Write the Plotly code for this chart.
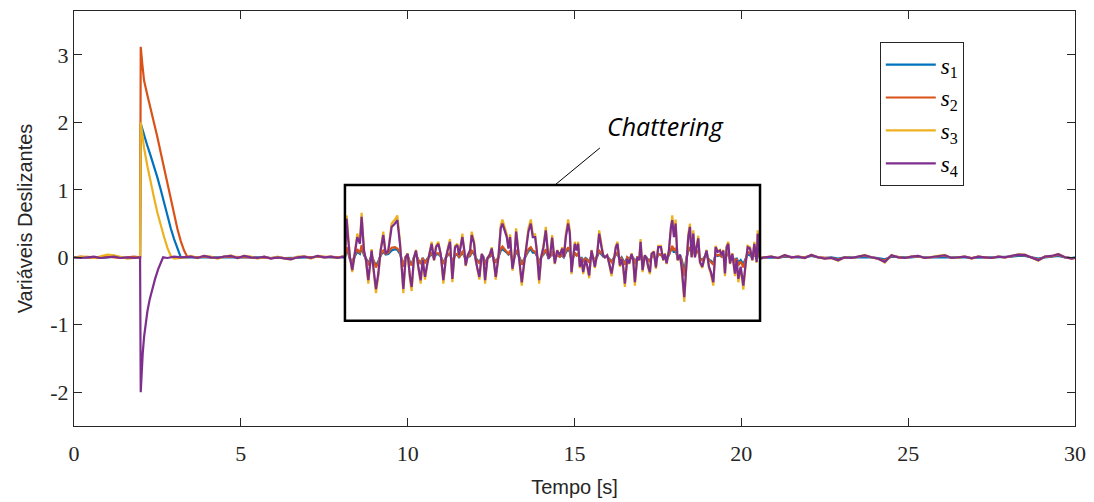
import plotly.graph_objects as go

# ---------------- data ----------------
t_pre = [0.0, 0.2, 0.4, 0.6, 0.8, 1.0, 1.2, 1.4, 1.6, 1.8, 1.98]
s1_pre = [0.0, 0.0, 0.01, 0.0, -0.01, 0.0, 0.01, 0.0, -0.01, 0.0, 0.0]
s2_pre = [0.0, 0.01, 0.0, -0.01, 0.0, 0.01, 0.0, -0.01, 0.0, 0.01, 0.0]
s3_pre = [0.0, 0.0, 0.01, -0.01, 0.02, 0.04, 0.03, 0.01, -0.02, -0.01, 0.0]
s4_pre = [0.0, -0.01, 0.0, 0.01, -0.01, 0.0, 0.01, -0.01, 0.0, -0.01, 0.0]

t1_tr = [2.0, 2.1, 2.2, 2.3, 2.4, 2.5, 2.6, 2.7, 2.8, 2.9, 3.0, 3.1, 3.2, 3.35]
s1_tr = [1.98, 1.8, 1.65, 1.5, 1.35, 1.18, 1.0, 0.8, 0.6, 0.43, 0.27, 0.12, 0.0, 0.0]
t2_tr = [2.0, 2.05, 2.1, 2.2, 2.3, 2.4, 2.5, 2.6, 2.7, 2.8, 2.9, 3.0, 3.1, 3.2, 3.3, 3.4]
s2_tr = [3.12, 2.85, 2.62, 2.4, 2.2, 2.0, 1.78, 1.55, 1.32, 1.08, 0.85, 0.63, 0.42, 0.24, 0.1, 0.0]
t3_tr = [2.0, 2.05, 2.1, 2.2, 2.3, 2.4, 2.5, 2.6, 2.7, 2.8, 2.9, 3.0, 3.2, 3.35]
s3_tr = [2.0, 1.8, 1.62, 1.35, 1.1, 0.88, 0.66, 0.47, 0.3, 0.14, 0.02, -0.02, -0.01, 0.0]
t4_tr = [2.0, 2.03, 2.06, 2.1, 2.15, 2.2, 2.27, 2.35, 2.43, 2.52, 2.6, 2.67, 2.8, 3.0, 3.2, 3.35]
s4_tr = [-2.0, -1.68, -1.42, -1.18, -0.96, -0.8, -0.62, -0.46, -0.32, -0.18, -0.07, 0.0, -0.01, 0.01, 0.0, 0.01]

t_mid = [3.5, 3.7, 3.9, 4.1, 4.3, 4.5, 4.7, 4.9, 5.1, 5.3, 5.5, 5.7, 5.9, 6.1, 6.3, 6.5,
         6.7, 6.9, 7.1, 7.3, 7.5, 7.7, 7.9, 8.05]
s1_mid = [0.0, 0.0, 0.01, 0.0, 0.0, 0.01, 0.01, 0.0, 0.01, 0.0, 0.0, 0.0, -0.01, 0.0, -0.01, -0.01,
          0.0, 0.0, 0.0, 0.01, 0.0, 0.0, 0.0, 0.0]
s2_mid = [0.01, 0.0, 0.01, 0.0, -0.01, 0.01, 0.01, 0.0, 0.01, 0.0, -0.01, 0.0, -0.01, 0.0, -0.01, -0.02,
          0.0, 0.01, 0.0, 0.01, 0.0, 0.01, 0.0, 0.01]
s3_mid = [0.02, -0.01, 0.02, 0.01, -0.02, 0.01, 0.03, -0.01, 0.02, 0.01, -0.02, 0.01, -0.02, 0.01, -0.02, -0.03,
          0.01, 0.01, -0.02, 0.02, 0.01, 0.01, -0.01, 0.01]
s4_mid = [0.01, -0.01, 0.02, 0.0, -0.01, 0.01, 0.02, -0.01, 0.02, 0.0, -0.01, 0.01, -0.02, 0.0, -0.02, -0.03,
          0.0, 0.01, -0.01, 0.02, 0.0, 0.01, -0.01, 0.01]

t_chat = [8.12, 8.17, 8.22, 8.27, 8.34, 8.42, 8.49, 8.57, 8.62, 8.69,
          8.75, 8.82, 8.92, 8.97, 9.05, 9.12, 9.19, 9.27, 9.34, 9.42,
          9.52, 9.62, 9.69, 9.77, 9.82, 9.87, 9.94, 10.0, 10.07, 10.12,
          10.19, 10.25, 10.32, 10.39, 10.45, 10.52, 10.59, 10.65, 10.72, 10.79,
          10.85, 10.92, 10.99, 11.07, 11.15, 11.22, 11.27, 11.34, 11.42, 11.49,
          11.54, 11.64, 11.70, 11.74, 11.80, 11.87, 11.92, 11.99, 12.04, 12.10,
          12.15, 12.22, 12.27, 12.32, 12.39, 12.47, 12.52, 12.59, 12.64, 12.72,
          12.79, 12.84, 12.90, 12.97, 13.02, 13.07, 13.14, 13.20, 13.25, 13.32,
          13.37, 13.42, 13.49, 13.55, 13.62, 13.69, 13.75, 13.82, 13.87, 13.94,
          14.00, 14.07, 14.14, 14.22, 14.27, 14.33, 14.41, 14.48, 14.56, 14.63,
          14.68, 14.74, 14.81, 14.86, 14.91, 14.96, 15.01, 15.06, 15.11, 15.16,
          15.21, 15.26, 15.33, 15.38, 15.44, 15.51, 15.56, 15.61, 15.68, 15.74,
          15.81, 15.86, 15.91, 15.98, 16.04, 16.11, 16.18, 16.24, 16.29, 16.36,
          16.41, 16.46, 16.51, 16.58, 16.64, 16.71, 16.76, 16.81, 16.88, 16.94,
          16.98, 17.04, 17.11, 17.16, 17.21, 17.26, 17.31, 17.38, 17.44, 17.51,
          17.59, 17.66, 17.71, 17.76, 17.83, 17.89, 17.93, 17.98, 18.03, 18.09,
          18.16, 18.21, 18.29, 18.36, 18.41, 18.46, 18.51, 18.56, 18.61, 18.66,
          18.71, 18.76, 18.83, 18.89, 18.96, 19.03, 19.09, 19.16, 19.23, 19.29,
          19.36, 19.41, 19.46, 19.51, 19.56, 19.61, 19.66, 19.73, 19.81, 19.86,
          19.91, 19.98, 20.06, 20.13, 20.19, 20.26, 20.33, 20.39, 20.46, 20.49,
          20.56]

s4_chat = [0.0, 0.57, 0.25, 0.0, -0.19, 0.05, 0.30, 0.20, 0.60, 0.10,
           -0.04, -0.34, 0.10, -0.14, -0.47, -0.24, 0.10, 0.33, 0.05, 0.10,
           0.45, 0.50, 0.55, 0.20, -0.09, -0.47, 0.0, 0.05, -0.29, -0.44,
           0.0, 0.10, -0.14, -0.34, -0.04, -0.29, -0.09, 0.05, 0.20, -0.04,
           0.15, 0.20, 0.05, -0.34, 0.0, 0.15, 0.23, -0.32, 0.15, 0.18,
           0.03, 0.30, 0.10, -0.12, 0.03, 0.10, 0.33, 0.20, -0.04, -0.19,
           -0.29, 0.05, 0.0, -0.34, -0.02, 0.05, 0.13, -0.09, -0.29, 0.0,
           0.43, 0.50, 0.40, 0.30, 0.13, 0.30, -0.17, 0.0, 0.38, 0.10,
           -0.09, -0.37, -0.09, 0.15, 0.38, 0.50, 0.30, 0.30, 0.10, -0.34,
           0.0, 0.15, 0.40, -0.02, 0.03, 0.29, -0.09, 0.10, 0.03, 0.13,
           0.0, 0.30, 0.50, 0.35, -0.22, 0.0, 0.20, 0.10, 0.20, -0.14,
           -0.02, -0.22, -0.04, -0.12, -0.27, 0.10, 0.0, -0.14, 0.05, 0.35,
           0.15, 0.03, 0.0, 0.03, -0.09, -0.24, -0.04, 0.15, 0.20, -0.12,
           -0.02, -0.14, -0.39, -0.02, -0.09, 0.05, -0.04, -0.37, 0.0, -0.04,
           0.23, -0.19, 0.03, -0.02, -0.14, -0.22, 0.05, 0.08, -0.15, 0.15,
           0.15, -0.04, 0.05, -0.09, 0.10, 0.45, 0.55, 0.30, 0.50, -0.04,
           0.03, -0.14, -0.59, -0.04, 0.30, 0.45, 0.0, 0.35, 0.0, 0.15,
           0.28, -0.07, -0.14, -0.02, 0.10, -0.14, -0.22, -0.37, 0.15, 0.08,
           0.10, 0.03, 0.10, -0.24, 0.15, 0.20, -0.09, 0.05, -0.24, -0.04,
           -0.32, -0.14, -0.42, -0.09, 0.15, 0.13, -0.04, 0.20, -0.07, 0.35,
           -0.02]

s3_chat = [0.0, 0.62, 0.29, 0.0, -0.22, 0.06, 0.35, 0.23, 0.66, 0.11,
           -0.05, -0.39, 0.12, -0.16, -0.53, -0.28, 0.11, 0.38, 0.05, 0.11,
           0.50, 0.56, 0.62, 0.23, -0.10, -0.53, 0.0, 0.06, -0.33, -0.50,
           0.0, 0.11, -0.16, -0.39, -0.04, -0.33, -0.10, 0.06, 0.23, -0.05,
           0.17, 0.23, 0.05, -0.39, 0.0, 0.17, 0.27, -0.37, 0.17, 0.20,
           0.03, 0.35, 0.11, -0.13, 0.03, 0.11, 0.38, 0.23, -0.05, -0.22,
           -0.33, 0.05, 0.0, -0.39, -0.02, 0.06, 0.15, -0.10, -0.33, 0.0,
           0.48, 0.56, 0.45, 0.34, 0.14, 0.34, -0.20, 0.0, 0.43, 0.11,
           -0.10, -0.42, -0.10, 0.17, 0.43, 0.56, 0.34, 0.34, 0.11, -0.39,
           0.0, 0.17, 0.45, -0.02, 0.03, 0.33, -0.10, 0.11, 0.03, 0.15,
           0.0, 0.34, 0.56, 0.40, -0.25, 0.0, 0.23, 0.11, 0.23, -0.16,
           -0.02, -0.25, -0.05, -0.14, -0.31, 0.11, 0.0, -0.16, 0.06, 0.40,
           0.17, 0.03, 0.0, 0.03, -0.10, -0.28, -0.05, 0.17, 0.23, -0.14,
           -0.02, -0.16, -0.44, -0.02, -0.10, 0.06, -0.05, -0.42, 0.0, -0.05,
           0.27, -0.22, 0.03, -0.02, -0.16, -0.25, 0.06, 0.09, -0.17, 0.17,
           0.17, -0.05, 0.06, -0.10, 0.11, 0.50, 0.62, 0.34, 0.56, -0.05,
           0.03, -0.16, -0.66, -0.05, 0.34, 0.50, 0.0, 0.40, 0.0, 0.17,
           0.32, -0.08, -0.16, -0.02, 0.11, -0.16, -0.25, -0.42, 0.17, 0.09,
           0.11, 0.03, 0.11, -0.28, 0.17, 0.23, -0.10, 0.06, -0.28, -0.05,
           -0.37, -0.16, -0.48, -0.10, 0.17, 0.15, -0.05, 0.23, -0.08, 0.40,
           -0.02]

s2_chat = [0.0, 0.15, 0.08, -0.02, -0.06, 0.04, 0.12, 0.06, 0.18, 0.05,
           -0.02, -0.12, 0.03, -0.05, -0.15, -0.08, 0.03, 0.10, 0.05, 0.07,
           0.14, 0.15, 0.13, 0.08, -0.03, -0.14, 0.01, 0.03, -0.09, -0.12,
           0.0, 0.05, -0.04, -0.10, -0.01, -0.08, -0.03, 0.02, 0.07, 0.0,
           0.06, 0.06, 0.02, -0.10, 0.0, 0.05, 0.06, -0.08, 0.04, 0.05,
           0.0, 0.08, 0.03, -0.04, 0.01, 0.03, 0.10, 0.07, -0.02, -0.06,
           -0.09, 0.01, -0.01, -0.11, -0.02, 0.02, 0.05, -0.03, -0.08, 0.01,
           0.13, 0.16, 0.12, 0.09, 0.05, 0.10, -0.05, 0.01, 0.11, 0.04,
           -0.03, -0.11, -0.03, 0.05, 0.12, 0.15, 0.10, 0.08, 0.03, -0.10,
           0.0, 0.05, 0.12, 0.0, 0.01, 0.09, -0.03, 0.04, 0.01, 0.05,
           0.0, 0.09, 0.15, 0.10, -0.06, 0.0, 0.07, 0.03, 0.06, -0.05,
           -0.01, -0.07, -0.02, -0.04, -0.08, 0.03, 0.0, -0.04, 0.02, 0.10,
           0.06, 0.02, 0.0, 0.01, -0.03, -0.07, -0.01, 0.05, 0.07, -0.04,
           -0.01, -0.05, -0.11, 0.0, -0.03, 0.02, -0.01, -0.10, 0.0, -0.01,
           0.07, -0.06, 0.01, -0.01, -0.04, -0.07, 0.02, 0.03, -0.05, 0.05,
           0.04, -0.01, 0.02, -0.03, 0.04, 0.14, 0.17, 0.10, 0.14, -0.01,
           0.03, -0.05, -0.28, -0.02, 0.12, 0.15, 0.05, 0.12, 0.03, 0.08,
           0.10, -0.02, -0.05, 0.0, 0.04, -0.04, -0.07, -0.11, 0.04, 0.03,
           0.04, 0.01, 0.03, -0.07, 0.05, 0.06, -0.03, 0.02, -0.08, -0.02,
           -0.12, -0.06, -0.15, -0.03, 0.08, 0.06, -0.01, 0.07, -0.02, 0.10,
           -0.01]

s1_chat = [0.0, 0.12, 0.06, -0.03, -0.10, 0.02, 0.08, 0.05, 0.15, 0.03,
           -0.01, -0.09, 0.02, -0.04, -0.12, -0.06, 0.03, 0.08, 0.04, 0.05,
           0.10, 0.12, 0.11, 0.05, -0.02, -0.11, 0.0, 0.02, -0.07, -0.10,
           0.0, 0.03, -0.04, -0.08, -0.01, -0.07, -0.02, 0.02, 0.05, -0.01,
           0.04, 0.05, 0.01, -0.08, 0.0, 0.04, 0.05, -0.07, 0.03, 0.04,
           0.0, 0.07, 0.02, -0.03, 0.0, 0.02, 0.08, 0.05, -0.01, -0.05,
           -0.08, 0.01, 0.0, -0.09, -0.01, 0.01, 0.04, -0.02, -0.07, 0.0,
           0.10, 0.12, 0.10, 0.07, 0.04, 0.07, -0.04, 0.0, 0.09, 0.03,
           -0.02, -0.09, -0.02, 0.04, 0.09, 0.12, 0.07, 0.07, 0.02, -0.08,
           0.0, 0.04, 0.10, -0.01, 0.01, 0.07, -0.02, 0.03, 0.01, 0.03,
           0.0, 0.07, 0.12, 0.08, -0.05, 0.0, 0.05, 0.03, 0.05, -0.04,
           0.0, -0.05, -0.01, -0.03, -0.07, 0.03, 0.0, -0.04, 0.01, 0.08,
           0.04, 0.01, 0.0, 0.01, -0.02, -0.06, -0.01, 0.04, 0.05, -0.03,
           0.0, -0.04, -0.09, 0.0, -0.02, 0.01, -0.01, -0.09, 0.0, -0.01,
           0.05, -0.05, 0.01, 0.0, -0.04, -0.05, 0.01, 0.02, -0.04, 0.04,
           0.04, -0.01, 0.01, -0.02, 0.03, 0.11, 0.13, 0.07, 0.12, -0.01,
           0.04, -0.03, -0.20, 0.0, 0.10, 0.12, 0.06, 0.10, 0.05, 0.10,
           0.08, -0.01, -0.04, 0.0, 0.03, -0.04, -0.05, -0.09, 0.04, 0.02,
           0.03, 0.01, 0.03, -0.06, 0.04, 0.05, -0.02, 0.01, -0.06, -0.01,
           -0.08, -0.04, -0.10, -0.02, 0.04, 0.03, -0.01, 0.05, -0.02, 0.08,
           -0.01]

t_post = [20.7, 20.9, 21.1, 21.3, 21.5, 21.7, 21.9, 22.1, 22.3, 22.5,
          22.7, 22.9, 23.1, 23.3, 23.5, 23.7, 23.9, 24.1, 24.3, 24.5,
          24.7, 24.9, 25.1, 25.3, 25.5, 25.7, 25.9, 26.1, 26.3, 26.5,
          26.7, 26.9, 27.1, 27.3, 27.5, 27.7, 27.9, 28.1, 28.3, 28.5,
          28.7, 28.9, 29.1, 29.3, 29.5, 29.7, 29.9, 30.0]
s1_post = [0.0, 0.0, -0.01, 0.01, 0.0, 0.0, 0.0, 0.02, 0.0, -0.01,
           0.0, -0.02, 0.0, 0.0, 0.0, 0.01, 0.0, -0.01, -0.03, 0.01,
           0.0, 0.0, 0.0, 0.01, 0.0, 0.0, 0.01, 0.01, 0.0, 0.0,
           0.0, -0.01, 0.0, 0.0, 0.0, 0.0, 0.0, 0.01, 0.02, 0.02,
           0.0, -0.02, 0.0, 0.01, 0.02, 0.0, -0.01, 0.0]
s2_post = [0.0, 0.01, -0.01, 0.02, 0.0, 0.01, 0.0, 0.03, 0.0, -0.01,
           -0.01, -0.035, 0.0, -0.01, 0.01, 0.025, 0.0, -0.02, -0.05, 0.02,
           0.0, -0.01, 0.01, 0.015, -0.01, 0.0, 0.015, 0.025, -0.01, 0.0,
           0.01, -0.01, 0.01, 0.0, -0.01, 0.01, 0.0, 0.015, 0.035, 0.03,
           0.0, -0.035, 0.01, 0.015, 0.035, 0.0, -0.015, -0.01]
s3_post = [0.0, 0.01, -0.01, 0.035, 0.0, 0.01, -0.01, 0.04, 0.0, -0.02,
           -0.01, -0.05, 0.0, -0.01, 0.01, 0.035, 0.0, -0.02, -0.08, 0.035,
           0.0, -0.01, 0.01, 0.02, -0.01, 0.0, 0.02, 0.035, -0.01, 0.0,
           0.01, -0.02, 0.01, 0.0, -0.01, 0.01, 0.0, 0.02, 0.045, 0.04,
           0.0, -0.05, 0.01, 0.02, 0.05, 0.0, -0.02, -0.01]
s4_post = [0.0, 0.01, -0.01, 0.03, 0.0, 0.01, -0.01, 0.035, 0.0, -0.02,
           -0.01, -0.045, 0.0, -0.01, 0.01, 0.03, 0.0, -0.02, -0.07, 0.03,
           0.0, -0.01, 0.01, 0.02, -0.01, 0.0, 0.02, 0.03, -0.01, 0.0,
           0.01, -0.015, 0.01, 0.0, -0.01, 0.01, 0.0, 0.02, 0.04, 0.035,
           0.0, -0.045, 0.01, 0.02, 0.045, 0.0, -0.02, -0.01]

series_names = ["<i>s</i><sub>1</sub>", "<i>s</i><sub>2</sub>",
                "<i>s</i><sub>3</sub>", "<i>s</i><sub>4</sub>"]
series_colors = ["#0072BD", "#D95319", "#EDB120", "#7E2F8E"]

# chattering box and label
box_x = [8.12, 20.56]
box_y = [-0.94, 1.07]
label_text = "Chattering"


def join(parts):
    ts, vs = [], []
    for t, v in parts:
        n = min(len(t), len(v))
        ts += list(t[:n])
        vs += list(v[:n])
    return ts, vs


segments = [
    [(t_pre, s1_pre), (t1_tr, s1_tr), (t_mid, s1_mid), (t_chat, s1_chat), (t_post, s1_post)],
    [(t_pre, s2_pre), (t2_tr, s2_tr), (t_mid, s2_mid), (t_chat, s2_chat), (t_post, s2_post)],
    [(t_pre, s3_pre), (t3_tr, s3_tr), (t_mid, s3_mid), (t_chat, s3_chat), (t_post, s3_post)],
    [(t_pre, s4_pre), (t4_tr, s4_tr), (t_mid, s4_mid), (t_chat, s4_chat), (t_post, s4_post)],
]

fig = go.Figure()
for name, color, parts in zip(series_names, series_colors, segments):
    x, y = join(parts)
    fig.add_trace(go.Scatter(x=x, y=y, mode="lines", name=name,
                             line=dict(color=color, width=2.2)))

axis_col = "#262626"
sans = "Arial, Liberation Sans, sans-serif"
serif = "Times New Roman, Liberation Serif, serif"

fig.add_shape(type="rect", xref="x", yref="y", x0=box_x[0], x1=box_x[1],
              y0=box_y[0], y1=box_y[1], line=dict(color="black", width=2.5),
              layer="above")
fig.add_shape(type="line", xref="x", yref="y", x0=14.41, y0=box_y[1],
              x1=15.76, y1=1.62, line=dict(color="black", width=1), layer="above")
fig.add_annotation(x=17.72, y=1.95, xref="x", yref="y", text=f"<i>{label_text}</i>",
                   showarrow=False,
                   font=dict(family="Open Sans", size=25, color="black"))

fig.update_layout(
    width=1094, height=502,
    margin=dict(l=74, r=19, t=11, b=76),
    plot_bgcolor="white", paper_bgcolor="white",
    showlegend=True,
    legend=dict(x=0.805, y=0.925, xanchor="left", yanchor="top",
                bordercolor=axis_col, borderwidth=1, bgcolor="white",
                font=dict(family=serif, size=23, color="black"),
                tracegroupgap=0, itemwidth=50),
)
fig.update_xaxes(range=[0, 30], tickvals=[0, 5, 10, 15, 20, 25, 30],
                 showline=True, mirror="ticks", linecolor=axis_col, linewidth=1,
                 ticks="inside", ticklen=8, tickcolor=axis_col,
                 showgrid=False, zeroline=False, ticklabelstandoff=8,
                 automargin=False,
                 tickfont=dict(family=serif, size=22, color=axis_col),
                 title=dict(text="Tempo [s]", standoff=14,
                            font=dict(family=sans, size=20, color=axis_col)))
fig.update_yaxes(range=[-2.5, 3.65], tickvals=[-2, -1, 0, 1, 2, 3],
                 ticktext=["-2", "-1", "0", "1", "2", "3"],
                 showline=True, mirror="ticks", linecolor=axis_col, linewidth=1,
                 ticks="inside", ticklen=8, tickcolor=axis_col,
                 showgrid=False, zeroline=False, automargin=False,
                 tickfont=dict(family=serif, size=22, color=axis_col),
                 title=dict(text="Variáveis Deslizantes", standoff=12,
                            font=dict(family=sans, size=20, color=axis_col)))

fig.write_html("out.html")
